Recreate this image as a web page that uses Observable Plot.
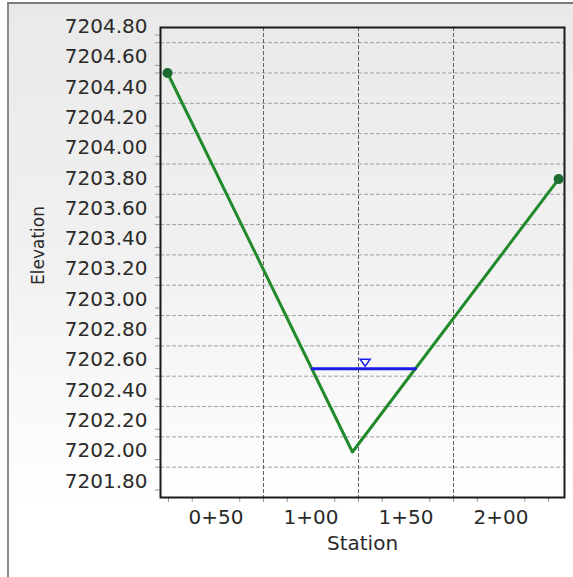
<!DOCTYPE html>
<html>
<head>
<meta charset="utf-8">
<script src="https://cdn.jsdelivr.net/npm/d3@7"></script>
<script src="https://cdn.jsdelivr.net/npm/@observablehq/plot@0.6"></script>
<style>
  html, body { margin: 0; padding: 0; background: #fff; }
  #wrap { position: relative; width: 573px; height: 577px; overflow: hidden; }
  #bg { position: absolute; left: 7px; top: 2px; right: 0; bottom: 0;
        border-left: 2px solid #8a8a8a; border-top: 2px solid #7a7a7a;
        background: linear-gradient(to bottom, #e9e9e9 0%, #f1f1f1 45%, #ffffff 88%, #ffffff 100%); }
  #chart { position: absolute; left: 0; top: 0; }
</style>
</head>
<body>
<div id="wrap"><div id="bg"></div><div id="chart"></div></div>
<script>
// Ground profile (station in feet, elevation)
const stations = [24.5, 121.8, 230.3];
const elevations = [7204.50, 7202.00, 7203.80];
// Water surface
const waterStations = [100.7, 155.0];
const waterElevation = 7202.55;
const waterMarkerStation = 128.5;
// Axes
const xTickLabels = [50, 100, 150, 200];
const xGridLines = [75, 125, 175];
const xMinorTicks = [25, 37.5, 62.5, 75, 87.5, 112.5, 125, 137.5, 162.5, 175, 187.5, 212.5, 225];
const yTickLabels = [7201.8, 7202.0, 7202.2, 7202.4, 7202.6, 7202.8, 7203.0, 7203.2, 7203.4, 7203.6, 7203.8, 7204.0, 7204.2, 7204.4, 7204.6, 7204.8];
const yGridLines = [7201.9, 7202.1, 7202.3, 7202.5, 7202.7, 7202.9, 7203.1, 7203.3, 7203.5, 7203.7, 7203.9, 7204.1, 7204.3, 7204.5, 7204.7];
const yMinorTicks = [7201.75, 7201.9, 7201.95, 7202.1, 7202.15, 7202.3, 7202.35, 7202.5, 7202.55, 7202.7, 7202.75, 7202.9, 7202.95, 7203.1, 7203.15, 7203.3, 7203.35, 7203.5, 7203.55, 7203.7, 7203.75, 7203.9, 7203.95, 7204.1, 7204.15, 7204.3, 7204.35, 7204.5, 7204.55, 7204.7, 7204.75];

const ground = stations.map((s, i) => ({station: s, elevation: elevations[i]}));
const water = waterStations.map(s => ({station: s, elevation: waterElevation}));
const fmtStation = d => `${Math.floor(d / 100)}+${String(d % 100).padStart(2, "0")}`;

const invTriangle = {
  draw(context) {
    context.moveTo(-5, -3.5);
    context.lineTo(5, -3.5);
    context.lineTo(0, 3.5);
    context.closePath();
  }
};

const chart = Plot.plot({
  width: 573,
  height: 577,
  marginLeft: 160,
  marginRight: 9,
  marginTop: 27,
  marginBottom: 80,
  style: {background: "transparent", fontFamily: "DejaVu Sans, Verdana, sans-serif", fontSize: "20px", color: "#2a2a2a"},
  x: {domain: [20.8, 233.4]},
  y: {domain: [7201.70, 7204.80]},
  marks: [
    Plot.gridY(yGridLines, {stroke: "#a0a0a0", strokeOpacity: 1, strokeDasharray: "4,2"}),
    Plot.gridX(xGridLines, {stroke: "#606060", strokeOpacity: 1, strokeDasharray: "4,2"}),
    Plot.axisY(yMinorTicks, {tickSize: 5, fill: "none", label: null, stroke: "#9a9a9a"}),
    Plot.axisY(yTickLabels, {tickSize: 0, tickPadding: 13, tickFormat: d => d.toFixed(2), label: null, fill: "#2a2a2a", dy: -1}),
    Plot.axisX(xMinorTicks, {tickSize: 5, fill: "none", label: null, stroke: "#9a9a9a"}),
    Plot.axisX(xTickLabels, {tickSize: 0, tickPadding: 12, tickFormat: fmtStation, label: null, fill: "#2a2a2a"}),
    Plot.frame({stroke: "#1a1a1a", strokeWidth: 2}),
    Plot.line(ground, {x: "station", y: "elevation", stroke: "#218a2a", strokeWidth: 3}),
    Plot.dot(ground.filter((d, i) => i === 0 || i === ground.length - 1), {x: "station", y: "elevation", r: 5, fill: "#1d6a33", stroke: "none"}),
    Plot.line(water, {x: "station", y: "elevation", stroke: "#1c1ce8", strokeWidth: 3}),
    Plot.dot([{station: waterMarkerStation, elevation: waterElevation}], {x: "station", y: "elevation", symbol: invTriangle, r: 4, stroke: "#1c1ce8", strokeWidth: 1.5, fill: "#fff", dy: -6}),
    Plot.text(["Elevation"], {frameAnchor: "left", textAnchor: "middle", dx: -122, dy: -17, rotate: -90, fontSize: 17, fill: "#2a2a2a"}),
    Plot.text(["Station"], {frameAnchor: "bottom", dy: 52, fontSize: 20, fill: "#2a2a2a"})
  ]
});
document.getElementById("chart").appendChild(chart);
</script>
</body>
</html>
